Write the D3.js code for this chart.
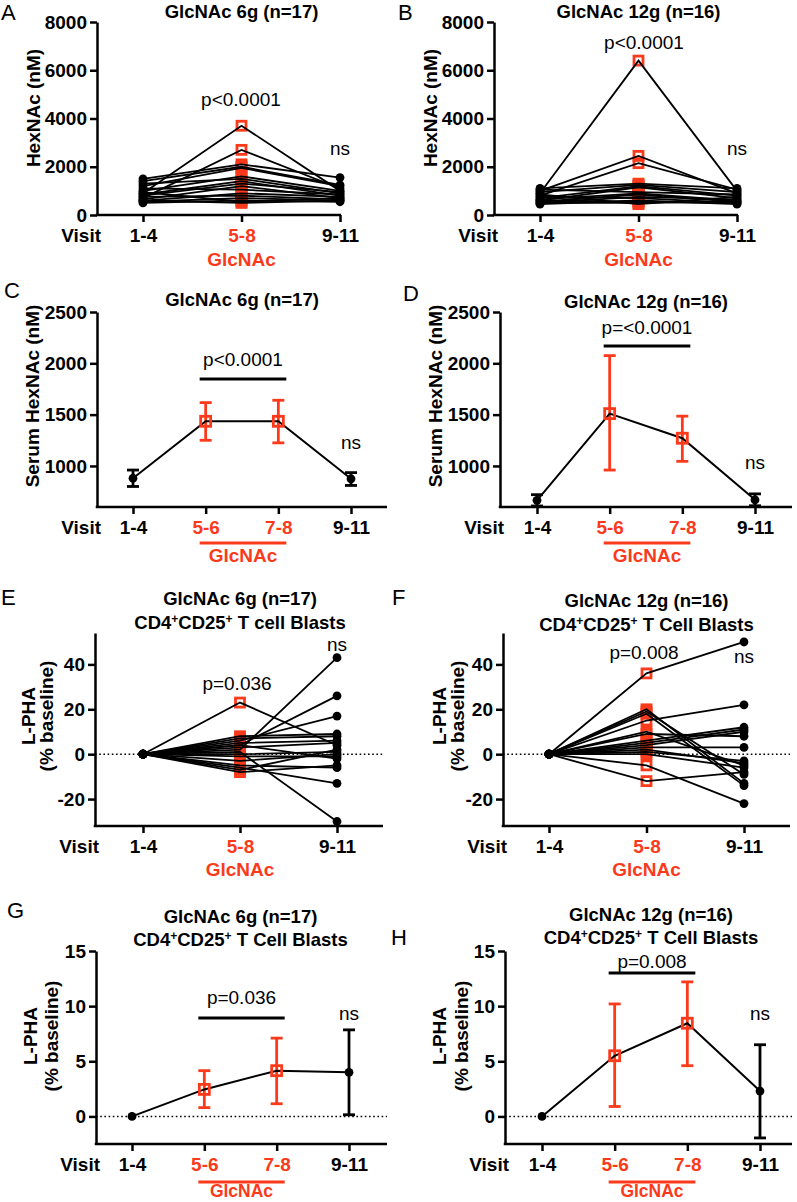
<!DOCTYPE html>
<html>
<head>
<meta charset="utf-8">
<script src="https://cdn.jsdelivr.net/npm/d3@7"></script>
<style>
  body { margin: 0; background: #fff; }
  svg text { font-family: Arial, "Liberation Sans", Helvetica, sans-serif; }
</style>
</head>
<body>
<script>
const red = "#fb3a1c";

// categories
const visits3 = ["1-4", "5-8", "9-11"];
const visits4 = ["1-4", "5-6", "7-8", "9-11"];
const redVisits = ["5-8", "5-6", "7-8"];

// A: GlcNAc 6g, HexNAc (nM) per subject
const aVisit14 = [900, 700, 1500, 1400, 1200, 1000, 1300, 850, 800, 650, 1100, 600, 750, 550, 500, 950, 600];
const aVisit58 = [3700, 2700, 2100, 2000, 1950, 1600, 1500, 1400, 1300, 1200, 1050, 900, 800, 700, 600, 550, 500];
const aVisit911 = [1000, 1100, 1550, 1250, 1200, 1000, 900, 800, 950, 700, 850, 750, 650, 600, 550, 700, 600];

// B: GlcNAc 12g, HexNAc (nM) per subject
const bVisit14 = [900, 1000, 800, 1100, 950, 700, 600, 1050, 650, 550, 500, 750, 450, 600, 500, 850];
const bVisit58 = [6400, 2450, 2150, 1300, 1250, 1200, 1150, 950, 900, 850, 750, 700, 600, 550, 500, 450];
const bVisit911 = [1000, 900, 1050, 1100, 950, 800, 700, 850, 600, 550, 650, 500, 450, 500, 550, 750];

// C: GlcNAc 6g, serum HexNAc summary
const cMean = [880, 1435, 1435, 875];
const cLow = [800, 1250, 1225, 810];
const cHigh = [960, 1617, 1640, 935];

// D: GlcNAc 12g, serum HexNAc summary
const dMean = [665, 1510, 1270, 670];
const dLow = [610, 960, 1045, 612];
const dHigh = [720, 2075, 1485, 728];

// E: GlcNAc 6g, L-PHA % baseline per subject
const eVisit14 = [0, 0, 0, 0, 0, 0, 0, 0, 0, 0, 0, 0, 0, 0, 0, 0, 0];
const eVisit58 = [23, 2, 4, 6, 8, 7, 5, 3, -7, 1, -6, 0, -3, -1, -5, -8, 4];
const eVisit911 = [4, 43, 26, 17, 9, 8, 6, 5, 2, -30, -13, 1, 0, -1, -6, -5, -2];

// F: GlcNAc 12g, L-PHA % baseline per subject
const fVisit14 = [0, 0, 0, 0, 0, 0, 0, 0, 0, 0, 0, 0, 0, 0, 0, 0];
const fVisit58 = [36, 15, 20, 19, 18, 9, 10, 6, 5, 4, 3, 2, 1, -5, -12, 0];
const fVisit911 = [50, 22, -13, -9, -14, 8, -5, 12, 11, 10, 3, -4, -3, -22, -8, -6];

// G: GlcNAc 6g, L-PHA summary
const gMean = [0, 2.45, 4.15, 4.0];
const gLow = [0, 0.8, 1.15, 0.15];
const gHigh = [0, 4.15, 7.1, 7.85];

// H: GlcNAc 12g, L-PHA summary
const hMean = [0, 5.5, 8.45, 2.3];
const hLow = [0, 0.9, 4.6, -1.95];
const hHigh = [0, 10.2, 12.2, 6.5];

// tick values
const hexTicks = [0, 2000, 4000, 6000, 8000];
const serumTicks = [1000, 1500, 2000, 2500];
const phaTicks = [-20, 0, 20, 40];
const phaMeanTicks = [0, 5, 10, 15];

const svg = d3.select("body").append("svg")
  .attr("width", 797)
  .attr("height", 1202);

// panel frames
const geo = {
  A: { ax: 97, ax2: 341, x0: 143, x1: 340, yTop: 22, yBot: 215 },
  B: { ax: 494, ax2: 738, x0: 540, x1: 737, yTop: 22, yBot: 215 },
  C: { ax: 97, ax2: 387, x0: 133, x1: 351, yTop: 312, yBot: 507 },
  D: { ax: 500, ax2: 792, x0: 537, x1: 755, yTop: 312, yBot: 507 },
  E: { ax: 95, ax2: 383, x0: 143, x1: 337, yTop: 633, yBot: 826 },
  F: { ax: 503, ax2: 790, x0: 549, x1: 744, yTop: 633, yBot: 826 },
  G: { ax: 96, ax2: 387, x0: 132, x1: 349, yTop: 951, yBot: 1144 },
  H: { ax: 505, ax2: 792, x0: 542, x1: 760, yTop: 951, yBot: 1144 }
};

// text placement
const notes = {
  A: { letter: [1, 20], titles: ["GlcNAc 6g (n=17)"], titleY: [18], ylab: ["HexNAc (nM)"], ylabX: [33], ylabY: 108,
       p: "p<0.0001", pX: 241, pY: 106, nsY: 155, glcY: 266 },
  B: { letter: [398, 20], titles: ["GlcNAc 12g (n=16)"], titleY: [18], ylab: ["HexNAc (nM)"], ylabX: [430], ylabY: 108,
       p: "p<0.0001", pX: 644, pY: 49, nsY: 155, glcY: 266 },
  C: { letter: [4, 298], titles: ["GlcNAc 6g (n=17)"], titleY: [306], ylab: ["Serum HexNAc (nM)"], ylabX: [32], ylabY: 396,
       p: "p<0.0001", pY: 366, barY: 379, nsY: 449, underY: 543, glcY: 562 },
  D: { letter: [403, 301], titles: ["GlcNAc 12g (n=16)"], titleY: [308], ylab: ["Serum HexNAc (nM)"], ylabX: [435], ylabY: 396,
       p: "p=<0.0001", pY: 334, barY: 346, nsY: 469, underY: 543, glcY: 562 },
  E: { letter: [1, 605], titles: ["GlcNAc 6g (n=17)", "T cell Blasts"], titleY: [605, 629], ylab: ["L-PHA", "(% baseline)"], ylabX: [28, 46], ylabY: 716,
       p: "p=0.036", pX: 237, pY: 690, nsY: 651, glcY: 876, zero: true },
  F: { letter: [392, 605], titles: ["GlcNAc 12g (n=16)", "T Cell Blasts"], titleY: [607, 631], ylab: ["L-PHA", "(% baseline)"], ylabX: [439, 457], ylabY: 716,
       p: "p=0.008", pX: 644, pY: 659, nsY: 663, glcY: 876, zero: true },
  G: { letter: [7, 918], titles: ["GlcNAc 6g (n=17)", "T Cell Blasts"], titleY: [923, 946], ylab: ["L-PHA", "(% baseline)"], ylabX: [30, 51], ylabY: 1036,
       p: "p=0.036", pY: 1004, barY: 1018, nsY: 1020, underY: 1182, glcY: 1197, glcSize: 17.5, zero: true },
  H: { letter: [391, 945], titles: ["GlcNAc 12g (n=16)", "T Cell Blasts"], titleY: [921, 944], ylab: ["L-PHA", "(% baseline)"], ylabX: [439, 461], ylabY: 1036,
       p: "p=0.008", pY: 968, barY: 973, nsY: 1020, underY: 1182, glcY: 1197, glcSize: 17.5, zero: true }
};

function frame(id, cats, ydom, yticks) {
  const p = geo[id];
  const n = notes[id];
  const g = svg.append("g").attr("id", "panel-" + id);
  const x = d3.scalePoint().domain(cats).range([p.x0, p.x1]);
  const y = d3.scaleLinear().domain(ydom).range([p.yBot, p.yTop]);

  // dotted zero line
  if (n.zero) {
    g.append("line")
      .attr("x1", p.ax).attr("x2", p.ax2)
      .attr("y1", y(0)).attr("y2", y(0))
      .attr("stroke", "#000").attr("stroke-width", 1.6)
      .attr("stroke-dasharray", "1.6,2.6");
  }

  // y axis
  g.append("g")
    .attr("transform", `translate(${p.ax},0)`)
    .call(d3.axisLeft(y).tickValues(yticks).tickFormat((d) => String(d))
      .tickSize(7).tickSizeOuter(0).tickPadding(3))
    .call((a) => a.selectAll("path, line").attr("stroke", "#000").attr("stroke-width", 2.5))
    .call((a) => a.selectAll("text").attr("font-size", 19).attr("font-weight", "bold").attr("fill", "#000"));

  // x axis
  g.append("g")
    .attr("transform", `translate(0,${p.yBot})`)
    .call(d3.axisBottom(x).tickSize(7).tickSizeOuter(0).tickPadding(7))
    .call((a) => a.select(".domain").remove())
    .call((a) => a.selectAll("line").attr("stroke", "#000").attr("stroke-width", 2.5))
    .call((a) => a.selectAll("text").attr("font-size", 19).attr("font-weight", "bold")
      .attr("fill", (d) => (redVisits.includes(d) ? red : "#000")));
  g.append("line")
    .attr("x1", p.ax - 1.25).attr("x2", p.ax2)
    .attr("y1", p.yBot).attr("y2", p.yBot)
    .attr("stroke", "#000").attr("stroke-width", 2.5);

  g.append("text")
    .attr("x", p.ax + 4).attr("y", p.yBot + 7 + 7)
    .attr("dy", "0.71em")
    .attr("text-anchor", "end")
    .attr("font-size", 19).attr("font-weight", "bold")
    .text("Visit");

  // panel letter
  g.append("text")
    .attr("x", n.letter[0]).attr("y", n.letter[1])
    .attr("font-size", 22)
    .text(id);

  // titles
  const tx = (p.x0 + p.x1) / 2;
  n.titles.forEach((t, i) => {
    const tt = g.append("text")
      .attr("x", tx).attr("y", n.titleY[i])
      .attr("text-anchor", "middle")
      .attr("font-size", 18.5).attr("font-weight", "bold");
    if (i === 0) {
      tt.text(t);
    } else {
      tt.append("tspan").text("CD4");
      tt.append("tspan").attr("font-size", 12).attr("dy", -6).text("+");
      tt.append("tspan").attr("dy", 6).text("CD25");
      tt.append("tspan").attr("font-size", 12).attr("dy", -6).text("+");
      tt.append("tspan").attr("dy", 6).text(" " + t);
    }
  });

  // y label
  n.ylab.forEach((t, i) => {
    g.append("text")
      .attr("transform", `translate(${n.ylabX[i]},${n.ylabY}) rotate(-90)`)
      .attr("dy", "0.36em")
      .attr("text-anchor", "middle")
      .attr("font-size", 19).attr("font-weight", "bold")
      .text(t);
  });

  // ns
  g.append("text")
    .attr("x", x(cats[cats.length - 1])).attr("y", n.nsY)
    .attr("text-anchor", "middle")
    .attr("font-size", 19)
    .text("ns");

  return { g, x, y, p, n };
}

function pairedPanel(id, cats, series, ydom, yticks) {
  const { g, x, y, n } = frame(id, cats, ydom, yticks);
  const subjects = d3.range(series[0].length)
    .map((i) => cats.map((c, k) => ({ c, v: series[k][i] })));

  // treatment visit (red squares)
  g.append("g").selectAll("rect")
    .data(series[1])
    .join("rect")
    .attr("x", (d) => x(cats[1]) - 4.5)
    .attr("y", (d) => y(d) - 4.5)
    .attr("width", 9).attr("height", 9)
    .attr("fill", "none").attr("stroke", red).attr("stroke-width", 2.8);

  const line = d3.line().x((d) => x(d.c)).y((d) => y(d.v));
  g.append("g").selectAll("path")
    .data(subjects)
    .join("path")
    .attr("d", line)
    .attr("fill", "none").attr("stroke", "#000").attr("stroke-width", 1.8);

  [0, 2].forEach((k) => {
    g.append("g").selectAll("circle")
      .data(series[k])
      .join("circle")
      .attr("cx", x(cats[k]))
      .attr("cy", (d) => y(d))
      .attr("r", 4.4)
      .attr("fill", "#000");
  });

  g.append("text")
    .attr("x", n.pX).attr("y", n.pY)
    .attr("text-anchor", "middle").attr("font-size", 19)
    .text(n.p);

  g.append("text")
    .attr("x", x(cats[1])).attr("y", n.glcY)
    .attr("text-anchor", "middle")
    .attr("font-size", 19).attr("font-weight", "bold").attr("fill", red)
    .text("GlcNAc");
}

function meanPanel(id, cats, mean, low, high, ydom, yticks) {
  const { g, x, y, n } = frame(id, cats, ydom, yticks);
  const rows = cats.map((c, i) => ({ c, m: mean[i], lo: low[i], hi: high[i], isRed: redVisits.includes(c) }));
  const col = (d) => (d.isRed ? red : "#000");

  // error bars
  const eb = g.append("g").selectAll("g")
    .data(rows.filter((d) => d.hi > d.lo))
    .join("g");
  eb.append("line")
    .attr("x1", (d) => x(d.c)).attr("x2", (d) => x(d.c))
    .attr("y1", (d) => y(d.lo)).attr("y2", (d) => y(d.hi))
    .attr("stroke", col).attr("stroke-width", 2.8);
  ["lo", "hi"].forEach((k) => {
    eb.append("line")
      .attr("x1", (d) => x(d.c) - 6).attr("x2", (d) => x(d.c) + 6)
      .attr("y1", (d) => y(d[k])).attr("y2", (d) => y(d[k]))
      .attr("stroke", col).attr("stroke-width", 2.8);
  });

  g.append("path")
    .datum(rows)
    .attr("d", d3.line().x((d) => x(d.c)).y((d) => y(d.m)))
    .attr("fill", "none").attr("stroke", "#000").attr("stroke-width", 2);

  g.append("g").selectAll("rect")
    .data(rows.filter((d) => d.isRed))
    .join("rect")
    .attr("x", (d) => x(d.c) - 5).attr("y", (d) => y(d.m) - 5)
    .attr("width", 10).attr("height", 10)
    .attr("fill", "none").attr("stroke", red).attr("stroke-width", 2.8);
  g.append("g").selectAll("circle")
    .data(rows.filter((d) => !d.isRed))
    .join("circle")
    .attr("cx", (d) => x(d.c)).attr("cy", (d) => y(d.m))
    .attr("r", 4.4).attr("fill", "#000");

  // significance bar over treatment visits
  const bx1 = x(cats[1]) - 6, bx2 = x(cats[2]) + 8;
  g.append("line")
    .attr("x1", bx1).attr("x2", bx2)
    .attr("y1", n.barY).attr("y2", n.barY)
    .attr("stroke", "#000").attr("stroke-width", 3.2);
  g.append("text")
    .attr("x", (bx1 + bx2) / 2).attr("y", n.pY)
    .attr("text-anchor", "middle").attr("font-size", 19)
    .text(n.p);

  // GlcNAc underline
  g.append("line")
    .attr("x1", bx1).attr("x2", bx2)
    .attr("y1", n.underY).attr("y2", n.underY)
    .attr("stroke", red).attr("stroke-width", 3.2);
  g.append("text")
    .attr("x", (bx1 + bx2) / 2).attr("y", n.glcY)
    .attr("text-anchor", "middle")
    .attr("font-size", n.glcSize || 19).attr("font-weight", "bold").attr("fill", red)
    .text("GlcNAc");
}

pairedPanel("A", visits3, [aVisit14, aVisit58, aVisit911], [0, 8000], hexTicks);
pairedPanel("B", visits3, [bVisit14, bVisit58, bVisit911], [0, 8000], hexTicks);
meanPanel("C", visits4, cMean, cLow, cHigh, [600, 2500], serumTicks);
meanPanel("D", visits4, dMean, dLow, dHigh, [600, 2500], serumTicks);
pairedPanel("E", visits3, [eVisit14, eVisit58, eVisit911], [-32, 54], phaTicks);
pairedPanel("F", visits3, [fVisit14, fVisit58, fVisit911], [-32, 54], phaTicks);
meanPanel("G", visits4, gMean, gLow, gHigh, [-2.5, 15], phaMeanTicks);
meanPanel("H", visits4, hMean, hLow, hHigh, [-2.5, 15], phaMeanTicks);
</script>
</body>
</html>
